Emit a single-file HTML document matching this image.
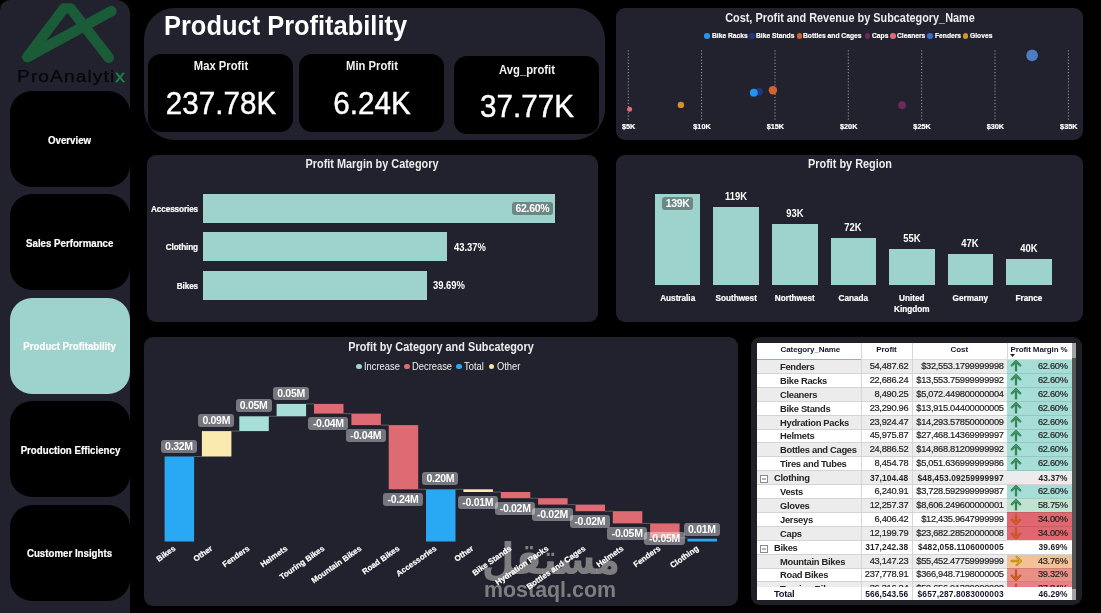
<!DOCTYPE html>
<html lang="en"><head><meta charset="utf-8"><title>Product Profitability</title>
<style>
*{box-sizing:border-box;margin:0;padding:0}
html,body{width:1101px;height:613px;background:#000;overflow:hidden}
body{position:relative;font-family:"Liberation Sans","DejaVu Sans",sans-serif;color:#fff}
.abs{position:absolute}
.panel{position:absolute;background:#22222e}
.btn{position:absolute;-webkit-text-stroke:.2px #fff;left:10px;width:120px;height:96px;border-radius:22px;background:#000;color:#fff;font-weight:bold;font-size:10.6px;padding-top:1px;display:flex;align-items:center;justify-content:center;white-space:nowrap}
.btn.on{background:#9ed3cd}
.card{position:absolute;background:#000;border-radius:13px}
.t{position:absolute;white-space:nowrap;line-height:1}
.c{transform:translateX(-50%)}
.din{font-weight:bold;color:#f2f2f2}
.ttl{position:absolute;white-space:nowrap;line-height:1;font-weight:bold;font-size:12.5px;color:#ededed;transform:translateX(-50%) scaleX(.87)}
.lbl{position:absolute;-webkit-text-stroke:.2px #fff;white-space:nowrap;line-height:1;font-weight:bold;font-size:8.2px;color:#fff}
.bar{position:absolute;background:#9ed3cd}
.dl{position:absolute;white-space:nowrap;line-height:1;font-weight:bold;font-size:10.6px;color:#fff;transform-origin:0 50%;transform:scaleX(.89)}
.dl.c{transform-origin:50% 50%;transform:translateX(-50%) scaleX(.89)}
.tag{position:absolute;letter-spacing:-.3px;background:rgba(255,255,255,.385);border-radius:3px;color:#fff;font-weight:bold;font-size:10.5px;line-height:13.8px;height:13.2px;text-align:center;white-space:nowrap}
.xl{position:absolute;z-index:5;-webkit-text-stroke:.2px #fff;white-space:nowrap;line-height:1;font-weight:bold;font-size:8px;color:#fff;transform-origin:100% 50%;transform:translate(-100%,-50%) rotate(-35deg)}

.tb{position:absolute;white-space:nowrap;line-height:1;color:#252423}
.nm{font-weight:bold;font-size:9.4px;letter-spacing:-.3px}
.num{font-size:9.3px;letter-spacing:-.3px;text-align:right;-webkit-text-stroke:.2px #252423}
.gb{font-weight:bold;font-size:8.4px;letter-spacing:.12px;text-align:right;color:#252423}
.hd{font-weight:bold;font-size:8px;letter-spacing:-.1px;color:#15152f}
.row{position:absolute;left:757px;width:314.8px;height:13.9px}
.vl{position:absolute;width:1px;background:#d6d6d6}
</style></head><body>

<div class="panel" style="left:0;top:0;width:130px;height:613px;border-radius:10px 14px 0 0"></div>
<svg class="abs" style="left:0;top:0" width="130" height="70" viewBox="0 0 130 70"><path d="M111.4 11.1 L27.3 57.1 L63.8 8.6 L70.8 8.6 L108.8 57.7" fill="none" stroke="#1a5c38" stroke-width="10.5" stroke-linecap="round" stroke-linejoin="round"/></svg>
<div class="t" id="logo" style="left:16.5px;top:69px;font-size:16px;color:#07070b;letter-spacing:.9px;transform-origin:0 0;transform:scaleX(1.2);-webkit-text-stroke:.25px #07070b">ProAnalyti<span style="color:#1f8a4a;-webkit-text-stroke:.3px #1f8a4a">x</span></div>
<div class="btn" style="top:91.0px"><span style="display:inline-block;transform:scaleX(.915)">Overview</span></div>
<div class="btn" style="top:194.4px"><span style="display:inline-block;transform:scaleX(.915)">Sales Performance</span></div>
<div class="btn on" style="top:297.8px"><span style="display:inline-block;transform:scaleX(.915)">Product Profitability</span></div>
<div class="btn" style="top:401.2px"><span style="display:inline-block;transform:scaleX(.915)">Production Efficiency</span></div>
<div class="btn" style="top:504.6px"><span style="display:inline-block;transform:scaleX(.915)">Customer Insights</span></div>
<div class="panel" style="left:143.5px;top:8.1px;width:461.4px;height:132.3px;border-radius:31px"></div>
<div class="t" id="title" style="left:164px;top:12.2px;font-size:27.5px;font-weight:bold;color:#fff;transform-origin:0 0;transform:scaleX(.925)">Product Profitability</div>
<div class="card" style="left:147.7px;top:54.3px;width:145.8px;height:77.7px"></div>
<div class="t din" id="cl0" style="left:220.6px;top:60.3px;font-size:12.5px;transform:translateX(-50%) scaleX(.9)">Max Profit</div>
<div class="t" id="cv0" style="left:220.6px;top:87.3px;font-size:32px;color:#fff;-webkit-text-stroke:.45px #fff;transform:translateX(-50%) scaleX(.925)">237.78K</div>
<div class="card" style="left:299.0px;top:54.3px;width:145.2px;height:77.7px"></div>
<div class="t din" id="cl1" style="left:371.6px;top:60.3px;font-size:12.5px;transform:translateX(-50%) scaleX(.9)">Min Profit</div>
<div class="t" id="cv1" style="left:371.6px;top:87.3px;font-size:32px;color:#fff;-webkit-text-stroke:.45px #fff;transform:translateX(-50%) scaleX(.925)">6.24K</div>
<div class="card" style="left:454.4px;top:56.3px;width:145.0px;height:78.2px"></div>
<div class="t din" id="cl2" style="left:526.9px;top:63.8px;font-size:12.5px;transform:translateX(-50%) scaleX(.9)">Avg_profit</div>
<div class="t" id="cv2" style="left:526.9px;top:90.3px;font-size:32px;color:#fff;-webkit-text-stroke:.45px #fff;transform:translateX(-50%) scaleX(.925)">37.77K</div>
<div class="panel" style="left:616px;top:8px;width:466.5px;height:131.5px;border-radius:9px"></div>
<div class="ttl" id="t_sc" style="left:849.5px;top:11.8px">Cost, Profit and Revenue by Subcategory_Name</div>
<div class="abs" style="left:704.1px;top:33px;width:5.6px;height:5.6px;border-radius:50%;background:#2196f3"></div>
<div class="lbl lg" style="left:711.5px;top:31.8px;font-size:7.8px;transform-origin:0 50%;transform:scaleX(.86)">Bike Racks</div>
<div class="abs" style="left:749.1px;top:33px;width:5.6px;height:5.6px;border-radius:50%;background:#24357f"></div>
<div class="lbl lg" style="left:756.0px;top:31.8px;font-size:7.8px;transform-origin:0 50%;transform:scaleX(.86)">Bike Stands</div>
<div class="abs" style="left:796.5px;top:33px;width:5.6px;height:5.6px;border-radius:50%;background:#d4622f"></div>
<div class="lbl lg" style="left:803.2px;top:31.8px;font-size:7.8px;transform-origin:0 50%;transform:scaleX(.86)">Bottles and Cages</div>
<div class="abs" style="left:864.6px;top:33px;width:5.6px;height:5.6px;border-radius:50%;background:#6b2a5b"></div>
<div class="lbl lg" style="left:871.5px;top:31.8px;font-size:7.8px;transform-origin:0 50%;transform:scaleX(.86)">Caps</div>
<div class="abs" style="left:890.0px;top:33px;width:5.6px;height:5.6px;border-radius:50%;background:#e06a78"></div>
<div class="lbl lg" style="left:897.0px;top:31.8px;font-size:7.8px;transform-origin:0 50%;transform:scaleX(.86)">Cleaners</div>
<div class="abs" style="left:927.4px;top:33px;width:5.6px;height:5.6px;border-radius:50%;background:#3a6fc9"></div>
<div class="lbl lg" style="left:934.6px;top:31.8px;font-size:7.8px;transform-origin:0 50%;transform:scaleX(.86)">Fenders</div>
<div class="abs" style="left:962.9px;top:33px;width:5.6px;height:5.6px;border-radius:50%;background:#d09428"></div>
<div class="lbl lg" style="left:969.9px;top:31.8px;font-size:7.8px;transform-origin:0 50%;transform:scaleX(.86)">Gloves</div>
<svg class="abs" style="left:616px;top:8px" width="467" height="132" viewBox="616 8 467 132"><defs><pattern id="fd" width="2" height="2" patternUnits="userSpaceOnUse"><rect width="2" height="2" fill="#2f6fcf"/><rect x=".6" y=".6" width=".9" height=".9" fill="#c9ad96"/></pattern></defs><line x1="628.3" y1="50.4" x2="628.3" y2="121.6" stroke="#b2b2b8" stroke-width="1" stroke-dasharray="1 2.1"/><line x1="701.6" y1="50.4" x2="701.6" y2="121.6" stroke="#b2b2b8" stroke-width="1" stroke-dasharray="1 2.1"/><line x1="775.0" y1="50.4" x2="775.0" y2="121.6" stroke="#b2b2b8" stroke-width="1" stroke-dasharray="1 2.1"/><line x1="848.3" y1="50.4" x2="848.3" y2="121.6" stroke="#b2b2b8" stroke-width="1" stroke-dasharray="1 2.1"/><line x1="921.7" y1="50.4" x2="921.7" y2="121.6" stroke="#b2b2b8" stroke-width="1" stroke-dasharray="1 2.1"/><line x1="995.0" y1="50.4" x2="995.0" y2="121.6" stroke="#b2b2b8" stroke-width="1" stroke-dasharray="1 2.1"/><line x1="1068.4" y1="50.4" x2="1068.4" y2="121.6" stroke="#b2b2b8" stroke-width="1" stroke-dasharray="1 2.1"/><circle cx="759.2" cy="91.7" r="3.7" fill="#24357f"/><circle cx="753.8" cy="92.7" r="3.9" fill="#2196f3"/><circle cx="772.9" cy="90.3" r="4.2" fill="#d4622f"/><circle cx="902.1" cy="105.2" r="3.9" fill="#6b2a5b"/><circle cx="629.6" cy="109.3" r="2.5" fill="#e06a78"/><circle cx="680.9" cy="104.9" r="3.2" fill="#d09428"/><circle cx="1032.1" cy="55.4" r="5.8" fill="url(#fd)"/></svg>
<div class="lbl c" style="left:628.7px;top:123.2px;font-size:7.3px">$5K</div>
<div class="lbl c" style="left:702.0px;top:123.2px;font-size:7.3px">$10K</div>
<div class="lbl c" style="left:775.4px;top:123.2px;font-size:7.3px">$15K</div>
<div class="lbl c" style="left:848.7px;top:123.2px;font-size:7.3px">$20K</div>
<div class="lbl c" style="left:922.1px;top:123.2px;font-size:7.3px">$25K</div>
<div class="lbl c" style="left:995.4px;top:123.2px;font-size:7.3px">$30K</div>
<div class="lbl c" style="left:1068.8px;top:123.2px;font-size:7.3px">$35K</div>
<div class="panel" style="left:146.5px;top:154.6px;width:451.7px;height:167.6px;border-radius:9px"></div>
<div class="ttl" id="t_pm" style="left:372.4px;top:158.4px">Profit Margin by Category</div>
<div class="bar" style="left:203px;top:193.8px;width:352.1px;height:29.2px"></div>
<div class="lbl" style="right:903.0px;top:205.8px;letter-spacing:-.12px">Accessories</div>
<div class="tag" style="left:512px;top:202.2px;width:40.8px;height:12.6px;line-height:13.2px;background:#6c8885">62.60%</div>
<div class="bar" style="left:203px;top:232.2px;width:244.0px;height:29.2px"></div>
<div class="lbl" style="right:903.0px;top:244.2px;letter-spacing:-.12px">Clothing</div>
<div class="dl" style="left:453.8px;top:241.5px">43.37%</div>
<div class="bar" style="left:203px;top:270.8px;width:223.6px;height:29.2px"></div>
<div class="lbl" style="right:903.0px;top:282.8px;letter-spacing:-.12px">Bikes</div>
<div class="dl" style="left:433.4px;top:280.1px">39.69%</div>
<div class="panel" style="left:616px;top:154.5px;width:466.7px;height:167.5px;border-radius:9px"></div>
<div class="ttl" id="t_pr" style="left:849.5px;top:158.4px">Profit by Region</div>
<div class="bar" style="left:654.9px;top:193.5px;width:45.6px;height:91.9px"></div>
<div class="lbl c" style="left:677.7px;top:292.8px;text-align:center;line-height:11.2px">Australia</div>
<div class="tag" style="left:662.2px;top:197.2px;width:31px;height:13.2px;line-height:13.8px;background:#6c8885;border-radius:3px">139K</div>
<div class="bar" style="left:713.4px;top:206.7px;width:45.6px;height:78.7px"></div>
<div class="lbl c" style="left:736.2px;top:292.8px;text-align:center;line-height:11.2px">Southwest</div>
<div class="dl c" style="left:736.2px;top:190.5px">119K</div>
<div class="bar" style="left:772.0px;top:223.9px;width:45.6px;height:61.5px"></div>
<div class="lbl c" style="left:794.8px;top:292.8px;text-align:center;line-height:11.2px">Northwest</div>
<div class="dl c" style="left:794.8px;top:207.7px">93K</div>
<div class="bar" style="left:830.5px;top:237.8px;width:45.6px;height:47.6px"></div>
<div class="lbl c" style="left:853.3px;top:292.8px;text-align:center;line-height:11.2px">Canada</div>
<div class="dl c" style="left:853.3px;top:221.6px">72K</div>
<div class="bar" style="left:889.0px;top:249.0px;width:45.6px;height:36.4px"></div>
<div class="lbl c" style="left:911.8px;top:292.8px;text-align:center;line-height:11.2px">United<br>Kingdom</div>
<div class="dl c" style="left:911.8px;top:232.8px">55K</div>
<div class="bar" style="left:947.5px;top:254.3px;width:45.6px;height:31.1px"></div>
<div class="lbl c" style="left:970.3px;top:292.8px;text-align:center;line-height:11.2px">Germany</div>
<div class="dl c" style="left:970.3px;top:238.1px">47K</div>
<div class="bar" style="left:1006.1px;top:259.0px;width:45.6px;height:26.4px"></div>
<div class="lbl c" style="left:1028.9px;top:292.8px;text-align:center;line-height:11.2px">France</div>
<div class="dl c" style="left:1028.9px;top:242.8px">40K</div>
<div class="panel" style="left:143.9px;top:337px;width:594.1px;height:268.6px;border-radius:9px"></div>
<div class="ttl" id="t_wf" style="left:441px;top:341px">Profit by Category and Subcategory</div>
<div class="abs" style="left:356.2px;top:363.8px;width:5.6px;height:5.6px;border-radius:50%;background:#9ed3cd"></div>
<div class="t wlg" style="left:364.0px;top:361.6px;font-size:10px;color:#f0f0f0;transform-origin:0 50%;transform:scaleX(.935)">Increase</div>
<div class="abs" style="left:404.2px;top:363.8px;width:5.6px;height:5.6px;border-radius:50%;background:#de6a73"></div>
<div class="t wlg" style="left:411.6px;top:361.6px;font-size:10px;color:#f0f0f0;transform-origin:0 50%;transform:scaleX(.935)">Decrease</div>
<div class="abs" style="left:456.2px;top:363.8px;width:5.6px;height:5.6px;border-radius:50%;background:#29a9f4"></div>
<div class="t wlg" style="left:463.7px;top:361.6px;font-size:10px;color:#f0f0f0;transform-origin:0 50%;transform:scaleX(.935)">Total</div>
<div class="abs" style="left:488.6px;top:363.8px;width:5.6px;height:5.6px;border-radius:50%;background:#f5e3a4"></div>
<div class="t wlg" style="left:497.0px;top:361.6px;font-size:10px;color:#f0f0f0;transform-origin:0 50%;transform:scaleX(.935)">Other</div>
<svg class="abs" style="left:144px;top:337px" width="594" height="269" viewBox="144 337 594 269"><line x1="194.1" y1="456.5" x2="201.9" y2="456.5" stroke="#6a6a72" stroke-width="0.8"/><rect x="164.6" y="456.5" width="29.5" height="85.0" fill="#29a9f4"/><line x1="231.4" y1="431.1" x2="239.3" y2="431.1" stroke="#6a6a72" stroke-width="0.8"/><rect x="201.9" y="431.1" width="29.5" height="25.4" fill="#faeab0"/><line x1="268.8" y1="416.3" x2="276.7" y2="416.3" stroke="#6a6a72" stroke-width="0.8"/><rect x="239.3" y="416.3" width="29.5" height="14.8" fill="#a7ded8"/><line x1="306.1" y1="403.9" x2="314.0" y2="403.9" stroke="#6a6a72" stroke-width="0.8"/><rect x="276.6" y="403.9" width="29.5" height="12.4" fill="#a7ded8"/><line x1="343.5" y1="413.6" x2="351.4" y2="413.6" stroke="#6a6a72" stroke-width="0.8"/><rect x="314.0" y="403.9" width="29.5" height="9.7" fill="#de6a73"/><line x1="380.9" y1="425.1" x2="388.7" y2="425.1" stroke="#6a6a72" stroke-width="0.8"/><rect x="351.4" y="413.6" width="29.5" height="11.5" fill="#de6a73"/><line x1="418.2" y1="489.3" x2="426.1" y2="489.3" stroke="#6a6a72" stroke-width="0.8"/><rect x="388.7" y="425.1" width="29.5" height="64.2" fill="#de6a73"/><line x1="455.5" y1="489.3" x2="463.4" y2="489.3" stroke="#6a6a72" stroke-width="0.8"/><rect x="426.0" y="489.3" width="29.5" height="52.2" fill="#29a9f4"/><line x1="492.9" y1="492.0" x2="500.8" y2="492.0" stroke="#6a6a72" stroke-width="0.8"/><rect x="463.4" y="489.3" width="29.5" height="2.7" fill="#faeab0"/><line x1="530.2" y1="498.2" x2="538.1" y2="498.2" stroke="#6a6a72" stroke-width="0.8"/><rect x="500.8" y="492.0" width="29.5" height="6.2" fill="#de6a73"/><line x1="567.6" y1="504.6" x2="575.5" y2="504.6" stroke="#6a6a72" stroke-width="0.8"/><rect x="538.1" y="498.2" width="29.5" height="6.4" fill="#de6a73"/><line x1="605.0" y1="511.2" x2="612.8" y2="511.2" stroke="#6a6a72" stroke-width="0.8"/><rect x="575.5" y="504.6" width="29.5" height="6.6" fill="#de6a73"/><line x1="642.3" y1="523.4" x2="650.2" y2="523.4" stroke="#6a6a72" stroke-width="0.8"/><rect x="612.8" y="511.2" width="29.5" height="12.2" fill="#de6a73"/><line x1="679.6" y1="537.9" x2="687.5" y2="537.9" stroke="#6a6a72" stroke-width="0.8"/><rect x="650.1" y="523.4" width="29.5" height="14.5" fill="#de6a73"/><rect x="687.5" y="538.7" width="29.5" height="2.8" fill="#29a9f4"/></svg>
<div class="tag" style="left:160.8px;top:439.5px;width:36.3px;">0.32M</div>
<div class="xl" style="left:174.5px;top:548.0px">Bikes</div>
<div class="tag" style="left:198.1px;top:414.1px;width:36.3px;">0.09M</div>
<div class="xl" style="left:211.9px;top:548.0px">Other</div>
<div class="tag" style="left:235.5px;top:399.3px;width:36.3px;">0.05M</div>
<div class="xl" style="left:249.2px;top:548.0px">Fenders</div>
<div class="tag" style="left:272.9px;top:386.9px;width:36.3px;">0.05M</div>
<div class="xl" style="left:286.6px;top:548.0px">Helmets</div>
<div class="tag" style="left:308.2px;top:417.3px;width:40.3px;">-0.04M</div>
<div class="xl" style="left:323.9px;top:548.0px">Touring Bikes</div>
<div class="tag" style="left:345.6px;top:428.8px;width:40.3px;">-0.04M</div>
<div class="xl" style="left:361.3px;top:548.0px">Mountain Bikes</div>
<div class="tag" style="left:382.9px;top:493.0px;width:40.3px;">-0.24M</div>
<div class="xl" style="left:398.7px;top:548.0px">Road Bikes</div>
<div class="tag" style="left:422.2px;top:472.3px;width:36.3px;">0.20M</div>
<div class="xl" style="left:436.0px;top:548.0px">Accessories</div>
<div class="tag" style="left:457.6px;top:495.7px;width:40.3px;">-0.01M</div>
<div class="xl" style="left:473.3px;top:548.0px">Other</div>
<div class="tag" style="left:495.0px;top:501.9px;width:40.3px;">-0.02M</div>
<div class="xl" style="left:510.7px;top:548.0px">Bike Stands</div>
<div class="tag" style="left:532.3px;top:508.3px;width:40.3px;">-0.02M</div>
<div class="xl" style="left:548.1px;top:548.0px">Hydration Packs</div>
<div class="tag" style="left:569.7px;top:514.9px;width:40.3px;">-0.02M</div>
<div class="xl" style="left:585.4px;top:548.0px">Bottles and Cages</div>
<div class="tag" style="left:607.0px;top:527.1px;width:40.3px;">-0.05M</div>
<div class="xl" style="left:622.8px;top:548.0px">Helmets</div>
<div class="tag" style="left:644.4px;top:531.5px;width:40.3px;">-0.05M</div>
<div class="xl" style="left:660.1px;top:548.0px">Fenders</div>
<div class="tag" style="left:683.7px;top:522.7px;width:36.3px;">0.01M</div>
<div class="xl" style="left:697.5px;top:548.0px">Clothing</div>
<div class="t" id="wm1" style="left:551px;top:536.5px;font-family:'DejaVu Sans',sans-serif;font-size:44px;font-weight:bold;color:rgba(150,150,150,.8);transform:translateX(-50%) scaleX(.86)">مستقل</div>
<div class="t" id="wm2" style="left:550px;top:580px;font-size:21.4px;font-weight:bold;color:rgba(150,150,150,.8);transform:translateX(-50%)">mostaql.com</div>

<div class="panel" style="left:751.3px;top:337.3px;width:331.2px;height:268.2px;border-radius:9px;background:#1f1f28"></div>
<div class="abs" style="left:757px;top:343px;width:314.8px;height:256.8px;background:#fff;overflow:hidden"></div>
<div class="abs" style="left:1071.8px;top:343px;width:4.3px;height:256.8px;background:#555"></div>
<div class="abs" style="left:1071.8px;top:343px;width:4.3px;height:15px;background:#a3a3a3"></div>
<div class="abs" style="left:1071.8px;top:588.8px;width:4.3px;height:11px;background:#a3a3a3"></div>
<div class="abs" style="left:757px;top:359.4px;width:314.8px;height:227.2px;overflow:hidden">
<div class="row" style="left:0;top:0.0px;background:#ececec"></div>
<div class="abs" style="left:0;top:13.6px;width:249.8px;height:1px;background:#d4d4d4;z-index:2"></div>
<div class="abs" style="left:249.8px;top:13.6px;width:65.0px;height:1px;background:rgba(0,0,0,.1);z-index:2"></div>
<div class="abs" style="left:249.8px;top:0.0px;width:65.0px;height:13.9px;background:#a6ddd7"></div>
<svg class="abs" style="left:253.2px;top:1.0px" width="12" height="12" viewBox="0 0 12 12"><g transform="rotate(0 6 6)"><path d="M6 11.2 V1.6 M1.2 6 L6 1.2 L10.8 6" fill="none" stroke="#2c6f48" stroke-width="2.3" stroke-linejoin="miter"/><path d="M6 11.2 V1.6 M1.2 6 L6 1.2 L10.8 6" fill="none" stroke="#3f9a62" stroke-width="1.2" stroke-linejoin="miter"/></g></svg>
<div class="tb nm" style="left:23.0px;top:2.6px">Fenders</div>
<div class="tb num" style="right:163.5px;top:2.6px">54,487.62</div>
<div class="tb num" style="right:68.1px;top:2.6px">$32,553.1799999998</div>
<div class="tb num" style="right:4.2px;top:2.6px">62.60%</div>
<div class="row" style="left:0;top:13.9px;background:#fff"></div>
<div class="abs" style="left:0;top:27.5px;width:249.8px;height:1px;background:#d4d4d4;z-index:2"></div>
<div class="abs" style="left:249.8px;top:27.5px;width:65.0px;height:1px;background:rgba(0,0,0,.1);z-index:2"></div>
<div class="abs" style="left:249.8px;top:13.9px;width:65.0px;height:13.9px;background:#a6ddd7"></div>
<svg class="abs" style="left:253.2px;top:14.9px" width="12" height="12" viewBox="0 0 12 12"><g transform="rotate(0 6 6)"><path d="M6 11.2 V1.6 M1.2 6 L6 1.2 L10.8 6" fill="none" stroke="#2c6f48" stroke-width="2.3" stroke-linejoin="miter"/><path d="M6 11.2 V1.6 M1.2 6 L6 1.2 L10.8 6" fill="none" stroke="#3f9a62" stroke-width="1.2" stroke-linejoin="miter"/></g></svg>
<div class="tb nm" style="left:23.0px;top:16.5px">Bike Racks</div>
<div class="tb num" style="right:163.5px;top:16.5px">22,686.24</div>
<div class="tb num" style="right:68.1px;top:16.5px">$13,553.75999999992</div>
<div class="tb num" style="right:4.2px;top:16.5px">62.60%</div>
<div class="row" style="left:0;top:27.8px;background:#ececec"></div>
<div class="abs" style="left:0;top:41.4px;width:249.8px;height:1px;background:#d4d4d4;z-index:2"></div>
<div class="abs" style="left:249.8px;top:41.4px;width:65.0px;height:1px;background:rgba(0,0,0,.1);z-index:2"></div>
<div class="abs" style="left:249.8px;top:27.8px;width:65.0px;height:13.9px;background:#a6ddd7"></div>
<svg class="abs" style="left:253.2px;top:28.8px" width="12" height="12" viewBox="0 0 12 12"><g transform="rotate(0 6 6)"><path d="M6 11.2 V1.6 M1.2 6 L6 1.2 L10.8 6" fill="none" stroke="#2c6f48" stroke-width="2.3" stroke-linejoin="miter"/><path d="M6 11.2 V1.6 M1.2 6 L6 1.2 L10.8 6" fill="none" stroke="#3f9a62" stroke-width="1.2" stroke-linejoin="miter"/></g></svg>
<div class="tb nm" style="left:23.0px;top:30.4px">Cleaners</div>
<div class="tb num" style="right:163.5px;top:30.4px">8,490.25</div>
<div class="tb num" style="right:68.1px;top:30.4px">$5,072.449800000004</div>
<div class="tb num" style="right:4.2px;top:30.4px">62.60%</div>
<div class="row" style="left:0;top:41.7px;background:#fff"></div>
<div class="abs" style="left:0;top:55.3px;width:249.8px;height:1px;background:#d4d4d4;z-index:2"></div>
<div class="abs" style="left:249.8px;top:55.3px;width:65.0px;height:1px;background:rgba(0,0,0,.1);z-index:2"></div>
<div class="abs" style="left:249.8px;top:41.7px;width:65.0px;height:13.9px;background:#a6ddd7"></div>
<svg class="abs" style="left:253.2px;top:42.7px" width="12" height="12" viewBox="0 0 12 12"><g transform="rotate(0 6 6)"><path d="M6 11.2 V1.6 M1.2 6 L6 1.2 L10.8 6" fill="none" stroke="#2c6f48" stroke-width="2.3" stroke-linejoin="miter"/><path d="M6 11.2 V1.6 M1.2 6 L6 1.2 L10.8 6" fill="none" stroke="#3f9a62" stroke-width="1.2" stroke-linejoin="miter"/></g></svg>
<div class="tb nm" style="left:23.0px;top:44.3px">Bike Stands</div>
<div class="tb num" style="right:163.5px;top:44.3px">23,290.96</div>
<div class="tb num" style="right:68.1px;top:44.3px">$13,915.04400000005</div>
<div class="tb num" style="right:4.2px;top:44.3px">62.60%</div>
<div class="row" style="left:0;top:55.6px;background:#ececec"></div>
<div class="abs" style="left:0;top:69.2px;width:249.8px;height:1px;background:#d4d4d4;z-index:2"></div>
<div class="abs" style="left:249.8px;top:69.2px;width:65.0px;height:1px;background:rgba(0,0,0,.1);z-index:2"></div>
<div class="abs" style="left:249.8px;top:55.6px;width:65.0px;height:13.9px;background:#a6ddd7"></div>
<svg class="abs" style="left:253.2px;top:56.6px" width="12" height="12" viewBox="0 0 12 12"><g transform="rotate(0 6 6)"><path d="M6 11.2 V1.6 M1.2 6 L6 1.2 L10.8 6" fill="none" stroke="#2c6f48" stroke-width="2.3" stroke-linejoin="miter"/><path d="M6 11.2 V1.6 M1.2 6 L6 1.2 L10.8 6" fill="none" stroke="#3f9a62" stroke-width="1.2" stroke-linejoin="miter"/></g></svg>
<div class="tb nm" style="left:23.0px;top:58.2px">Hydration Packs</div>
<div class="tb num" style="right:163.5px;top:58.2px">23,924.47</div>
<div class="tb num" style="right:68.1px;top:58.2px">$14,293.57850000009</div>
<div class="tb num" style="right:4.2px;top:58.2px">62.60%</div>
<div class="row" style="left:0;top:69.5px;background:#fff"></div>
<div class="abs" style="left:0;top:83.1px;width:249.8px;height:1px;background:#d4d4d4;z-index:2"></div>
<div class="abs" style="left:249.8px;top:83.1px;width:65.0px;height:1px;background:rgba(0,0,0,.1);z-index:2"></div>
<div class="abs" style="left:249.8px;top:69.5px;width:65.0px;height:13.9px;background:#a6ddd7"></div>
<svg class="abs" style="left:253.2px;top:70.5px" width="12" height="12" viewBox="0 0 12 12"><g transform="rotate(0 6 6)"><path d="M6 11.2 V1.6 M1.2 6 L6 1.2 L10.8 6" fill="none" stroke="#2c6f48" stroke-width="2.3" stroke-linejoin="miter"/><path d="M6 11.2 V1.6 M1.2 6 L6 1.2 L10.8 6" fill="none" stroke="#3f9a62" stroke-width="1.2" stroke-linejoin="miter"/></g></svg>
<div class="tb nm" style="left:23.0px;top:72.1px">Helmets</div>
<div class="tb num" style="right:163.5px;top:72.1px">45,975.87</div>
<div class="tb num" style="right:68.1px;top:72.1px">$27,468.14369999997</div>
<div class="tb num" style="right:4.2px;top:72.1px">62.60%</div>
<div class="row" style="left:0;top:83.4px;background:#ececec"></div>
<div class="abs" style="left:0;top:97.0px;width:249.8px;height:1px;background:#d4d4d4;z-index:2"></div>
<div class="abs" style="left:249.8px;top:97.0px;width:65.0px;height:1px;background:rgba(0,0,0,.1);z-index:2"></div>
<div class="abs" style="left:249.8px;top:83.4px;width:65.0px;height:13.9px;background:#a6ddd7"></div>
<svg class="abs" style="left:253.2px;top:84.4px" width="12" height="12" viewBox="0 0 12 12"><g transform="rotate(0 6 6)"><path d="M6 11.2 V1.6 M1.2 6 L6 1.2 L10.8 6" fill="none" stroke="#2c6f48" stroke-width="2.3" stroke-linejoin="miter"/><path d="M6 11.2 V1.6 M1.2 6 L6 1.2 L10.8 6" fill="none" stroke="#3f9a62" stroke-width="1.2" stroke-linejoin="miter"/></g></svg>
<div class="tb nm" style="left:23.0px;top:86.0px">Bottles and Cages</div>
<div class="tb num" style="right:163.5px;top:86.0px">24,886.52</div>
<div class="tb num" style="right:68.1px;top:86.0px">$14,868.81209999992</div>
<div class="tb num" style="right:4.2px;top:86.0px">62.60%</div>
<div class="row" style="left:0;top:97.3px;background:#fff"></div>
<div class="abs" style="left:0;top:110.9px;width:249.8px;height:1px;background:#d4d4d4;z-index:2"></div>
<div class="abs" style="left:249.8px;top:110.9px;width:65.0px;height:1px;background:rgba(0,0,0,.1);z-index:2"></div>
<div class="abs" style="left:249.8px;top:97.3px;width:65.0px;height:13.9px;background:#a6ddd7"></div>
<svg class="abs" style="left:253.2px;top:98.3px" width="12" height="12" viewBox="0 0 12 12"><g transform="rotate(0 6 6)"><path d="M6 11.2 V1.6 M1.2 6 L6 1.2 L10.8 6" fill="none" stroke="#2c6f48" stroke-width="2.3" stroke-linejoin="miter"/><path d="M6 11.2 V1.6 M1.2 6 L6 1.2 L10.8 6" fill="none" stroke="#3f9a62" stroke-width="1.2" stroke-linejoin="miter"/></g></svg>
<div class="tb nm" style="left:23.0px;top:99.9px">Tires and Tubes</div>
<div class="tb num" style="right:163.5px;top:99.9px">8,454.78</div>
<div class="tb num" style="right:68.1px;top:99.9px">$5,051.636999999986</div>
<div class="tb num" style="right:4.2px;top:99.9px">62.60%</div>
<div class="row" style="left:0;top:111.2px;background:#ececec"></div>
<div class="abs" style="left:0;top:124.8px;width:314.8px;height:1px;background:#d4d4d4;z-index:2"></div>
<svg class="abs" style="left:2.6px;top:115.8px" width="8" height="8" viewBox="0 0 8 8"><rect x=".5" y=".5" width="7" height="7" fill="#fff" stroke="#8a8a8a"/><path d="M2 4H6" stroke="#666" stroke-width="1"/></svg>
<div class="tb nm" style="left:17.0px;top:113.8px">Clothing</div>
<div class="tb gb" style="right:163.5px;top:114.6px">37,104.48</div>
<div class="tb gb" style="right:68.1px;top:114.6px">$48,453.09259999997</div>
<div class="tb gb" style="right:4.2px;top:114.6px">43.37%</div>
<div class="row" style="left:0;top:125.1px;background:#fff"></div>
<div class="abs" style="left:0;top:138.7px;width:249.8px;height:1px;background:#d4d4d4;z-index:2"></div>
<div class="abs" style="left:249.8px;top:138.7px;width:65.0px;height:1px;background:rgba(0,0,0,.1);z-index:2"></div>
<div class="abs" style="left:249.8px;top:125.1px;width:65.0px;height:13.9px;background:#a6ddd7"></div>
<svg class="abs" style="left:253.2px;top:126.1px" width="12" height="12" viewBox="0 0 12 12"><g transform="rotate(0 6 6)"><path d="M6 11.2 V1.6 M1.2 6 L6 1.2 L10.8 6" fill="none" stroke="#2c6f48" stroke-width="2.3" stroke-linejoin="miter"/><path d="M6 11.2 V1.6 M1.2 6 L6 1.2 L10.8 6" fill="none" stroke="#3f9a62" stroke-width="1.2" stroke-linejoin="miter"/></g></svg>
<div class="tb nm" style="left:23.0px;top:127.7px">Vests</div>
<div class="tb num" style="right:163.5px;top:127.7px">6,240.91</div>
<div class="tb num" style="right:68.1px;top:127.7px">$3,728.592999999987</div>
<div class="tb num" style="right:4.2px;top:127.7px">62.60%</div>
<div class="row" style="left:0;top:139.0px;background:#ececec"></div>
<div class="abs" style="left:0;top:152.6px;width:249.8px;height:1px;background:#d4d4d4;z-index:2"></div>
<div class="abs" style="left:249.8px;top:152.6px;width:65.0px;height:1px;background:rgba(0,0,0,.1);z-index:2"></div>
<div class="abs" style="left:249.8px;top:139.0px;width:65.0px;height:13.9px;background:#bfe3d0"></div>
<svg class="abs" style="left:253.2px;top:140.0px" width="12" height="12" viewBox="0 0 12 12"><g transform="rotate(0 6 6)"><path d="M6 11.2 V1.6 M1.2 6 L6 1.2 L10.8 6" fill="none" stroke="#2c6f48" stroke-width="2.3" stroke-linejoin="miter"/><path d="M6 11.2 V1.6 M1.2 6 L6 1.2 L10.8 6" fill="none" stroke="#3f9a62" stroke-width="1.2" stroke-linejoin="miter"/></g></svg>
<div class="tb nm" style="left:23.0px;top:141.6px">Gloves</div>
<div class="tb num" style="right:163.5px;top:141.6px">12,257.37</div>
<div class="tb num" style="right:68.1px;top:141.6px">$8,606.249600000001</div>
<div class="tb num" style="right:4.2px;top:141.6px">58.75%</div>
<div class="row" style="left:0;top:152.9px;background:#fff"></div>
<div class="abs" style="left:0;top:166.5px;width:249.8px;height:1px;background:#d4d4d4;z-index:2"></div>
<div class="abs" style="left:249.8px;top:166.5px;width:65.0px;height:1px;background:rgba(0,0,0,.1);z-index:2"></div>
<div class="abs" style="left:249.8px;top:152.9px;width:65.0px;height:13.9px;background:#e0666f"></div>
<svg class="abs" style="left:253.2px;top:153.9px" width="12" height="12" viewBox="0 0 12 12"><g transform="rotate(180 6 6)"><path d="M6 11.2 V1.6 M1.2 6 L6 1.2 L10.8 6" fill="none" stroke="#b4481c" stroke-width="2.3" stroke-linejoin="miter"/><path d="M6 11.2 V1.6 M1.2 6 L6 1.2 L10.8 6" fill="none" stroke="#d9602c" stroke-width="1.2" stroke-linejoin="miter"/></g></svg>
<div class="tb nm" style="left:23.0px;top:155.5px">Jerseys</div>
<div class="tb num" style="right:163.5px;top:155.5px">6,406.42</div>
<div class="tb num" style="right:68.1px;top:155.5px">$12,435.9647999999</div>
<div class="tb num" style="right:4.2px;top:155.5px">34.00%</div>
<div class="row" style="left:0;top:166.8px;background:#ececec"></div>
<div class="abs" style="left:0;top:180.4px;width:249.8px;height:1px;background:#d4d4d4;z-index:2"></div>
<div class="abs" style="left:249.8px;top:180.4px;width:65.0px;height:1px;background:rgba(0,0,0,.1);z-index:2"></div>
<div class="abs" style="left:249.8px;top:166.8px;width:65.0px;height:13.9px;background:#e0666f"></div>
<svg class="abs" style="left:253.2px;top:167.8px" width="12" height="12" viewBox="0 0 12 12"><g transform="rotate(180 6 6)"><path d="M6 11.2 V1.6 M1.2 6 L6 1.2 L10.8 6" fill="none" stroke="#b4481c" stroke-width="2.3" stroke-linejoin="miter"/><path d="M6 11.2 V1.6 M1.2 6 L6 1.2 L10.8 6" fill="none" stroke="#d9602c" stroke-width="1.2" stroke-linejoin="miter"/></g></svg>
<div class="tb nm" style="left:23.0px;top:169.4px">Caps</div>
<div class="tb num" style="right:163.5px;top:169.4px">12,199.79</div>
<div class="tb num" style="right:68.1px;top:169.4px">$23,682.28520000008</div>
<div class="tb num" style="right:4.2px;top:169.4px">34.00%</div>
<div class="row" style="left:0;top:180.7px;background:#fff"></div>
<div class="abs" style="left:0;top:194.3px;width:314.8px;height:1px;background:#d4d4d4;z-index:2"></div>
<svg class="abs" style="left:2.6px;top:185.3px" width="8" height="8" viewBox="0 0 8 8"><rect x=".5" y=".5" width="7" height="7" fill="#fff" stroke="#8a8a8a"/><path d="M2 4H6" stroke="#666" stroke-width="1"/></svg>
<div class="tb nm" style="left:17.0px;top:183.3px">Bikes</div>
<div class="tb gb" style="right:163.5px;top:184.1px">317,242.38</div>
<div class="tb gb" style="right:68.1px;top:184.1px">$482,058.1106000005</div>
<div class="tb gb" style="right:4.2px;top:184.1px">39.69%</div>
<div class="row" style="left:0;top:194.6px;background:#ececec"></div>
<div class="abs" style="left:0;top:208.2px;width:249.8px;height:1px;background:#d4d4d4;z-index:2"></div>
<div class="abs" style="left:249.8px;top:208.2px;width:65.0px;height:1px;background:rgba(0,0,0,.1);z-index:2"></div>
<div class="abs" style="left:249.8px;top:194.6px;width:65.0px;height:13.9px;background:#f3c196"></div>
<svg class="abs" style="left:253.2px;top:195.6px" width="12" height="12" viewBox="0 0 12 12"><g transform="rotate(90 6 6)"><path d="M6 11.2 V1.6 M1.2 6 L6 1.2 L10.8 6" fill="none" stroke="#b9861a" stroke-width="2.3" stroke-linejoin="miter"/><path d="M6 11.2 V1.6 M1.2 6 L6 1.2 L10.8 6" fill="none" stroke="#dba424" stroke-width="1.2" stroke-linejoin="miter"/></g></svg>
<div class="tb nm" style="left:23.0px;top:197.2px">Mountain Bikes</div>
<div class="tb num" style="right:163.5px;top:197.2px">43,147.23</div>
<div class="tb num" style="right:68.1px;top:197.2px">$55,452.47759999999</div>
<div class="tb num" style="right:4.2px;top:197.2px">43.76%</div>
<div class="row" style="left:0;top:208.5px;background:#fff"></div>
<div class="abs" style="left:0;top:222.1px;width:249.8px;height:1px;background:#d4d4d4;z-index:2"></div>
<div class="abs" style="left:249.8px;top:222.1px;width:65.0px;height:1px;background:rgba(0,0,0,.1);z-index:2"></div>
<div class="abs" style="left:249.8px;top:208.5px;width:65.0px;height:13.9px;background:#e98f85"></div>
<svg class="abs" style="left:253.2px;top:209.5px" width="12" height="12" viewBox="0 0 12 12"><g transform="rotate(180 6 6)"><path d="M6 11.2 V1.6 M1.2 6 L6 1.2 L10.8 6" fill="none" stroke="#b4481c" stroke-width="2.3" stroke-linejoin="miter"/><path d="M6 11.2 V1.6 M1.2 6 L6 1.2 L10.8 6" fill="none" stroke="#d9602c" stroke-width="1.2" stroke-linejoin="miter"/></g></svg>
<div class="tb nm" style="left:23.0px;top:211.1px">Road Bikes</div>
<div class="tb num" style="right:163.5px;top:211.1px">237,778.91</div>
<div class="tb num" style="right:68.1px;top:211.1px">$366,948.7198000005</div>
<div class="tb num" style="right:4.2px;top:211.1px">39.32%</div>
<div class="row" style="left:0;top:222.4px;background:#ececec"></div>
<div class="abs" style="left:0;top:236.0px;width:249.8px;height:1px;background:#d4d4d4;z-index:2"></div>
<div class="abs" style="left:249.8px;top:236.0px;width:65.0px;height:1px;background:rgba(0,0,0,.1);z-index:2"></div>
<div class="abs" style="left:249.8px;top:222.4px;width:65.0px;height:13.9px;background:#e8808a"></div>
<svg class="abs" style="left:253.2px;top:223.4px" width="12" height="12" viewBox="0 0 12 12"><g transform="rotate(180 6 6)"><path d="M6 11.2 V1.6 M1.2 6 L6 1.2 L10.8 6" fill="none" stroke="#b4481c" stroke-width="2.3" stroke-linejoin="miter"/><path d="M6 11.2 V1.6 M1.2 6 L6 1.2 L10.8 6" fill="none" stroke="#d9602c" stroke-width="1.2" stroke-linejoin="miter"/></g></svg>
<div class="tb nm" style="left:23.0px;top:225.0px">Touring Bikes</div>
<div class="tb num" style="right:163.5px;top:225.0px">36,316.24</div>
<div class="tb num" style="right:68.1px;top:225.0px">$59,656.91320000002</div>
<div class="tb num" style="right:4.2px;top:225.0px">37.84%</div>
</div>
<div class="tb hd" style="left:780.6px;top:346.2px">Category_Name</div>
<div class="tb hd c" style="left:886.5px;top:346.2px">Profit</div>
<div class="tb hd c" style="left:959.3px;top:346.2px">Cost</div>
<div class="tb hd" style="right:33.4px;top:346.2px">Profit Margin %</div>
<svg class="abs" style="left:1010.3px;top:354.3px" width="5" height="3" viewBox="0 0 5 3"><path d="M0 0H5L2.5 3Z" fill="#222"/></svg>
<div class="abs" style="left:757px;top:358.9px;width:104.4px;height:1px;background:#7fb2ea"></div>
<div class="abs" style="left:861.4px;top:358.9px;width:210.4px;height:1px;background:#dcdcdc"></div>
<div class="vl" style="left:861.4px;top:343px;height:256.8px"></div>
<div class="vl" style="left:911.5px;top:343px;height:256.8px"></div>
<div class="vl" style="left:1006.8px;top:343px;height:16.4px"></div>
<div class="abs" style="left:757px;top:586.6px;width:314.8px;height:13.2px;background:#fff"></div>
<div class="vl" style="left:861.4px;top:586.6px;height:13.2px"></div>
<div class="vl" style="left:911.5px;top:586.6px;height:13.2px"></div>
<div class="tb nm" style="left:774px;top:589.3px;color:#15152f">Total</div>
<div class="tb gb" style="right:192.7px;top:590.1px;color:#15152f">566,543.56</div>
<div class="tb gb" style="right:97.3px;top:590.1px;color:#15152f">$657,287.8083000003</div>
<div class="tb gb" style="right:33.4px;top:590.1px;color:#15152f">46.29%</div>
</body></html>
